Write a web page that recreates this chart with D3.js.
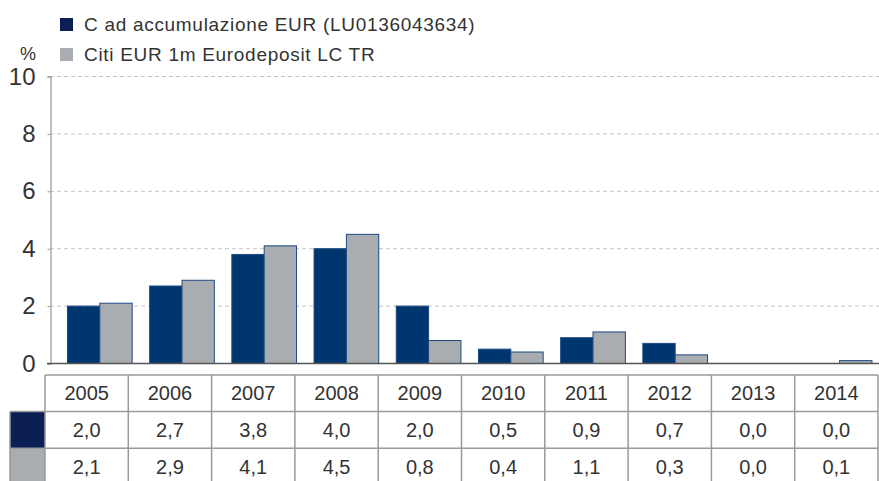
<!DOCTYPE html>
<html>
<head>
<meta charset="utf-8">
<script src="https://cdn.jsdelivr.net/npm/d3@7"></script>
<style>
  body { margin: 0; background: #fff; }
  svg { display: block; font-family: "Liberation Sans", Arial, sans-serif; }
</style>
</head>
<body>
<svg id="chart" width="879" height="481"></svg>
<script>
var years = ['2005', '2006', '2007', '2008', '2009', '2010', '2011', '2012', '2013', '2014'];
var fundValues = [2.0, 2.7, 3.8, 4.0, 2.0, 0.5, 0.9, 0.7, 0.0, 0.0];
var benchValues = [2.1, 2.9, 4.1, 4.5, 0.8, 0.4, 1.1, 0.3, 0.0, 0.1];
var seriesNames = ['C ad accumulazione EUR (LU0136043634)', 'Citi EUR 1m Eurodeposit LC TR'];
var yTicks = [0, 2, 4, 6, 8, 10];

var barColors = ['#003670', '#a9acb1'];
var swatchColors = ['#0b1f55', '#a9acb1'];
var textColor = '#333';

var svg = d3.select('#chart');

var y = d3.scaleLinear().domain([0, 10]).range([363.5, 76.5]);
// the bar groups sit a little right of the table columns, as in the original
var x = d3.scaleBand()
  .domain(years)
  .range([58.7, 880.7])
  .paddingInner(0.213)
  .paddingOuter(0.1065);
var xSub = d3.scaleBand().domain([0, 1]).range([0, x.bandwidth()]);

// grid lines
svg.append('g')
  .selectAll('line')
  .data(yTicks.filter(function (d) { return d > 0; }))
  .join('line')
  .attr('x1', 50)
  .attr('x2', 879)
  .attr('y1', function (d) { return y(d); })
  .attr('y2', function (d) { return y(d); })
  .attr('stroke', '#c4c4c4')
  .attr('stroke-width', 1)
  .attr('stroke-dasharray', '4,3');

// y axis
var yAxis = svg.append('g')
  .attr('transform', 'translate(50.5,0)')
  .call(d3.axisLeft(y).tickValues(yTicks).tickSize(3).tickPadding(12));
yAxis.select('.domain').attr('stroke', '#aaa').attr('stroke-width', 1.5);
yAxis.selectAll('.tick line').attr('stroke', '#999');
yAxis.selectAll('.tick text')
  .attr('font-size', 24)
  .attr('fill', textColor)
  .attr('font-family', '"Liberation Sans", Arial, sans-serif');

svg.append('text')
  .attr('x', 28)
  .attr('y', 60)
  .attr('text-anchor', 'middle')
  .attr('font-size', 18)
  .attr('fill', textColor)
  .text('%');

// bars
var rows = years.map(function (yr, i) {
  return { year: yr, values: [fundValues[i], benchValues[i]] };
});

var groups = svg.append('g')
  .selectAll('g')
  .data(rows)
  .join('g')
  .attr('transform', function (d) { return 'translate(' + x(d.year) + ',0)'; });

groups.selectAll('rect')
  .data(function (d) { return d.values.map(function (v, k) { return { k: k, v: v }; }); })
  .join('rect')
  .attr('x', function (d) { return xSub(d.k); })
  .attr('width', xSub.bandwidth())
  .attr('y', function (d) { return y(d.v); })
  .attr('height', function (d) { return y(0) - y(d.v); })
  .attr('fill', function (d) { return barColors[d.k]; })
  .attr('stroke', '#1d4a80')
  .attr('stroke-width', 1);

// zero line
svg.append('line')
  .attr('x1', 47)
  .attr('x2', 879)
  .attr('y1', y(0))
  .attr('y2', y(0))
  .attr('stroke', '#555')
  .attr('stroke-width', 1.5);

// legend
var legend = svg.append('g')
  .selectAll('g')
  .data(seriesNames)
  .join('g')
  .attr('transform', function (d, i) { return 'translate(60,' + (18 + i * 30) + ')'; });

legend.append('rect')
  .attr('width', 13)
  .attr('height', 13)
  .attr('fill', function (d, i) { return swatchColors[i]; });

// Liberation is narrower than the original face, so open it up a bit.
legend.append('text')
  .attr('x', 24)
  .attr('y', 13)
  .attr('font-size', 19)
  .attr('letter-spacing', 0.7)
  .attr('fill', textColor)
  .text(function (d) { return d; });

// data table
var tableLeft = 45;
var colW = 83.3;
var rowTop = [375, 411.7, 448.3];
var rowH = 36.6;
var fmt = function (v) { return d3.format('.1f')(v).replace('.', ','); };
var tableRows = [years, fundValues.map(fmt), benchValues.map(fmt)];

var table = svg.append('g');

tableRows.forEach(function (cells, r) {
  table.append('g')
    .selectAll('text')
    .data(cells)
    .join('text')
    .attr('x', function (d, i) { return tableLeft + colW * (i + 0.5); })
    .attr('y', rowTop[r] + rowH / 2 + 7)
    .attr('text-anchor', 'middle')
    .attr('font-size', 20)
    .attr('fill', textColor)
    .text(function (d) { return d; });
});

// swatch cells
table.selectAll('.swatch')
  .data(swatchColors)
  .join('rect')
  .attr('class', 'swatch')
  .attr('x', 10)
  .attr('y', function (d, i) { return rowTop[i + 1]; })
  .attr('width', tableLeft - 10)
  .attr('height', rowH)
  .attr('fill', function (d) { return d; });

var gridColor = '#9a9a9a';
// horizontal table lines
table.selectAll('.hline')
  .data([0, 1, 2, 3])
  .join('line')
  .attr('class', 'hline')
  .attr('x1', function (d) { return d === 0 ? tableLeft : 10; })
  .attr('x2', tableLeft + colW * years.length)
  .attr('y1', function (d) { return rowTop[0] + d * rowH; })
  .attr('y2', function (d) { return rowTop[0] + d * rowH; })
  .attr('stroke', gridColor)
  .attr('stroke-width', 1.5);

// vertical table lines
table.selectAll('.vline')
  .data(d3.range(years.length + 1))
  .join('line')
  .attr('class', 'vline')
  .attr('x1', function (d) { return tableLeft + d * colW; })
  .attr('x2', function (d) { return tableLeft + d * colW; })
  .attr('y1', rowTop[0])
  .attr('y2', 481)
  .attr('stroke', gridColor)
  .attr('stroke-width', 1.5);

table.append('line')
  .attr('x1', 10)
  .attr('x2', 10)
  .attr('y1', rowTop[1])
  .attr('y2', 481)
  .attr('stroke', gridColor)
  .attr('stroke-width', 1.5);
</script>
</body>
</html>
